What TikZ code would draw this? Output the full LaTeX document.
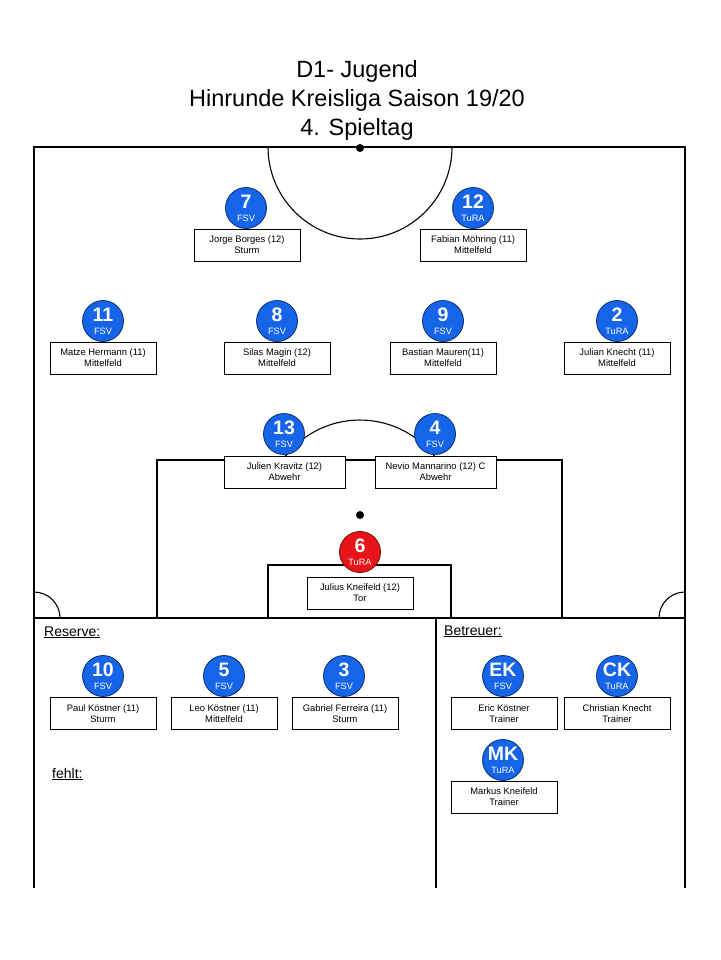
\documentclass[tikz,border=0pt]{standalone}
\usepackage{fontspec}
\setmainfont{Liberation Sans}
\usepackage{xcolor}
\usepackage{tikz}

\definecolor{fsvblau}{RGB}{22,100,232}
\definecolor{randblau}{RGB}{12,48,120}
\definecolor{torrot}{RGB}{232,20,26}
\definecolor{randrot}{RGB}{120,12,12}
\newcommand{\nummer}[1]{{\fontsize{19.5}{19.5}\selectfont\bfseries #1}}

\tikzset{
  spieler/.style={circle, draw=randblau, fill=fsvblau, text=white, line width=0.8pt,
    minimum size=41pt, inner sep=0pt, align=center, font=\fontsize{9.2}{10}\selectfont},
  torwart/.style={spieler, draw=randrot, fill=torrot},
  kasten/.style={draw, fill=white, line width=0.8pt, minimum width=106pt, minimum height=32pt,
    inner sep=0pt, align=center, font=\fontsize{9.4}{11}\selectfont},
  linie/.style={line width=1.6pt},
  bogen/.style={line width=1.1pt},
  rubrik/.style={anchor=base west, inner sep=0pt, font=\fontsize{14}{14}\selectfont}
}

\begin{document}
\begin{tikzpicture}[x=1pt, y=-1pt]
  \useasboundingbox (0,0) rectangle (720,960);

  % Title
  \node[align=center, inner sep=0pt, font=\fontsize{23.5}{29}\selectfont] (titel) at (357,100)
    {D1- Jugend\\Hinrunde Kreisliga Saison 19/20\\4. Spieltag};

  % Field
  \draw[linie] (34,888) -- (34,147) -- (685,147) -- (685,888);
  \draw[linie] (34,618) -- (685,618);
  \draw[linie] (436,618) -- (436,888);
  \draw[bogen] (268,147) arc[start angle=180, end angle=0, radius=92];
  \fill (360,148) circle[radius=4];
  \draw[linie] (157,618) -- (157,460) -- (562,460) -- (562,618);
  \draw[linie] (268,618) -- (268,565) -- (451,565) -- (451,618);
  \fill (360,515) circle[radius=4];
  \draw[bogen] (282.5,460) arc[start angle=-144.6, end angle=-35.4, radius=95];
  \draw[bogen] (34,592) arc[start angle=-90, end angle=0, radius=26];
  \draw[bogen] (659,618) arc[start angle=180, end angle=270, radius=26];

  % Boxes
  \node[kasten] (k7) at (247,245) {Jorge Borges (12)\\Sturm};
  \node[kasten] (k12) at (473,245) {Fabian Möhring (11)\\Mittelfeld};
  \node[kasten] (k11) at (103,358) {Matze Hermann (11)\\Mittelfeld};
  \node[kasten] (k8) at (277,358) {Silas Magin (12)\\Mittelfeld};
  \node[kasten] (k9) at (443,358) {Bastian Mauren(11)\\Mittelfeld};
  \node[kasten] (k2) at (617,358) {Julian Knecht (11)\\Mittelfeld};
  \node[kasten, minimum width=121pt] (k13) at (284.5,472) {Julien Kravitz (12)\\Abwehr};
  \node[kasten, minimum width=121pt] (k4) at (435.5,472) {Nevio Mannarino (12) C\\Abwehr};
  \node[kasten] (k6) at (360,593) {Julius Kneifeld (12)\\Tor};

  \node[kasten] (k10) at (103,713.5) {Paul Köstner (11)\\Sturm};
  \node[kasten] (k5) at (224,713.5) {Leo Köstner (11)\\Mittelfeld};
  \node[kasten] (k3) at (345,713.5) {Gabriel Ferreira (11)\\Sturm};
  \node[kasten] (kek) at (504,713.5) {Eric Köstner\\Trainer};
  \node[kasten] (kck) at (617,713.5) {Christian Knecht\\Trainer};
  \node[kasten] (kmk) at (504,797) {Markus Kneifeld\\Trainer};

  % Players
  \node[spieler] (p7) at (246,208) {\nummer{7}\\[3pt]FSV};
  \node[spieler] (p12) at (473,208) {\nummer{12}\\[3pt]TuRA};
  \node[spieler] (p11) at (103,321) {\nummer{11}\\[3pt]FSV};
  \node[spieler] (p8) at (277,321) {\nummer{8}\\[3pt]FSV};
  \node[spieler] (p9) at (443,321) {\nummer{9}\\[3pt]FSV};
  \node[spieler] (p2) at (617,321) {\nummer{2}\\[3pt]TuRA};
  \node[spieler] (p13) at (284,434) {\nummer{13}\\[3pt]FSV};
  \node[spieler] (p4) at (435,434) {\nummer{4}\\[3pt]FSV};
  \node[torwart] (p6) at (360,552) {\nummer{6}\\[3pt]TuRA};

  \node[spieler] (p10) at (103,676) {\nummer{10}\\[3pt]FSV};
  \node[spieler] (p5) at (224,676) {\nummer{5}\\[3pt]FSV};
  \node[spieler] (p3) at (344,676) {\nummer{3}\\[3pt]FSV};
  \node[spieler] (pek) at (503,676) {\nummer{EK}\\[3pt]FSV};
  \node[spieler] (pck) at (617,676) {\nummer{CK}\\[3pt]TuRA};
  \node[spieler] (pmk) at (503,760) {\nummer{MK}\\[3pt]TuRA};

  % Labels
  \node[rubrik] (reserve) at (44,636) {\underline{Reserve:}};
  \node[rubrik] (betreuer) at (444,635) {\underline{Betreuer:}};
  \node[rubrik] (fehlt) at (52,778) {\underline{fehlt:}};
\end{tikzpicture}
\end{document}
